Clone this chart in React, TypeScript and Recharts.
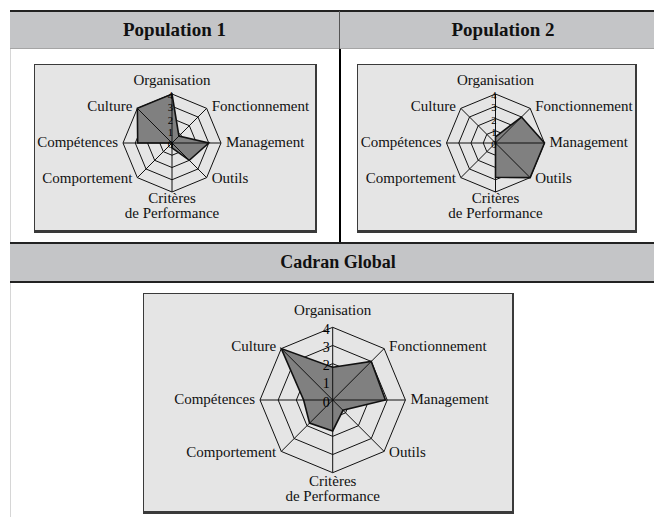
import React from 'react';
import { RadarChart, Radar, PolarGrid, PolarAngleAxis, PolarRadiusAxis } from 'recharts';

const categories = [
  'Organisation',
  'Fonctionnement',
  'Management',
  'Outils',
  'Critères de Performance',
  'Comportement',
  'Compétences',
  'Culture',
];
const population1 = [4, 0.8, 3, 2, 0.4, 0, 2.8, 4];
const population2 = [0.5, 3, 4, 4, 2.8, 0, 0, 0];
const cadranGlobal = [1.8, 3, 2.9, 0.8, 1.7, 1.8, 1.6, 4];
const radiusTicks = [0, 1, 2, 3, 4];
const headerTitles = ['Population 1', 'Population 2', 'Cadran Global'];

const FONT = '"Liberation Serif", "DejaVu Serif", serif';
const HEADER_BG = '#c4c5c7';
const BOX_BG = '#e5e5e5';
const RAD = Math.PI / 180;

const toRows = (values: number[]) => categories.map((c, i) => ({ axe: c, valeur: values[i] }));

function makeAngleTick(cx: number, cy: number, r: number, fontSize: number, topGap: number, bottomGap: number) {
  return (props: any) => {
    const { x, y, payload } = props;
    let dx = x - cx;
    let dy = y - cy;
    const len = Math.hypot(dx, dy) || 1;
    dx /= len;
    dy /= len;
    const vx = cx + r * dx;
    const vy = cy + r * dy;
    const label = String(payload.value);
    const common = { fontFamily: FONT, fontSize, fill: '#111' };
    if (Math.abs(dx) < 0.1) {
      if (dy < 0) {
        return (
          <text x={vx} y={vy - topGap} textAnchor="middle" {...common}>
            {label}
          </text>
        );
      }
      const parts = label.split(' ');
      const first = parts[0];
      const rest = parts.slice(1).join(' ');
      return (
        <text x={vx} y={vy + bottomGap} textAnchor="middle" {...common}>
          <tspan x={vx}>{first}</tspan>
          <tspan x={vx} dy={fontSize}>
            {rest}
          </tspan>
        </text>
      );
    }
    const anchor = dx > 0 ? 'start' : 'end';
    return (
      <text x={vx + Math.sign(dx) * 5} y={vy + 4 + dy * 2.5} textAnchor={anchor} {...common}>
        {label}
      </text>
    );
  };
}

function makeRadiusTick(dxOff: number, dyOff: number, fontSize: number) {
  return (props: any) => {
    const { x, y, payload } = props;
    return (
      <text
        x={x + dxOff}
        y={y + dyOff}
        textAnchor="end"
        dominantBaseline="central"
        fontFamily={FONT}
        fontSize={fontSize}
        fill="#000"
      >
        {payload.value}
      </text>
    );
  };
}

// polygon fill, then the spokes over it, then the outline (as in the reference)
function makeRadarShape(cx: number, cy: number, r: number) {
  return (props: any) => {
    const points: any[] = props.points || [];
    if (!points.length) return null;
    const d = points.map((p, i) => `${i === 0 ? 'M' : 'L'}${p.x},${p.y}`).join(' ') + ' Z';
    return (
      <g>
        <path d={d} fill="#808080" stroke="none" />
        {points.map((p, i) => {
          const a = p.angle;
          const ox = cx + Math.cos(-a * RAD) * r;
          const oy = cy + Math.sin(-a * RAD) * r;
          return <line key={i} x1={cx} y1={cy} x2={ox} y2={oy} stroke="#111" strokeWidth={1} />;
        })}
        <path d={d} fill="none" stroke="#111" strokeWidth={1.6} strokeLinejoin="miter" />
      </g>
    );
  };
}

type SpiderProps = {
  values: number[];
  width: number;
  height: number;
  cx: number;
  cy: number;
  r: number;
  digitSize: number;
  digitDx: number;
  digitDy: number;
  topGap: number;
  bottomGap: number;
};

function Spider({ values, width, height, cx, cy, r, digitSize, digitDx, digitDy, topGap, bottomGap }: SpiderProps) {
  const data = toRows(values);
  return (
    <RadarChart
      width={width}
      height={height}
      data={data}
      cx={cx}
      cy={cy}
      outerRadius={r}
      margin={{ top: 0, right: 0, bottom: 0, left: 0 }}
    >
      <PolarGrid gridType="polygon" radialLines={false} stroke="#111" strokeWidth={1} />
      <PolarAngleAxis
        dataKey="axe"
        tick={makeAngleTick(cx, cy, r, 15, topGap, bottomGap)}
        axisLine={false}
        tickLine={false}
      />
      <Radar
        dataKey="valeur"
        fill="#808080"
        fillOpacity={1}
        stroke="#111"
        strokeWidth={1.5}
        shape={makeRadarShape(cx, cy, r)}
        isAnimationActive={false}
      />
      <PolarRadiusAxis
        angle={90}
        domain={[0, 4]}
        ticks={radiusTicks as any}
        tickCount={5}
        axisLine={false}
        tickLine={false}
        tick={makeRadiusTick(digitDx, digitDy, digitSize)}
      />
    </RadarChart>
  );
}

const abs = (left: number, top: number, width: number, height: number): React.CSSProperties => ({
  position: 'absolute',
  left,
  top,
  width,
  height,
  boxSizing: 'border-box',
});

const headerText: React.CSSProperties = {
  display: 'flex',
  alignItems: 'center',
  justifyContent: 'center',
  fontFamily: FONT,
  fontWeight: 'bold',
  color: '#111',
};

const boxStyle: React.CSSProperties = {
  background: BOX_BG,
  border: '1px solid #3a3a3a',
  borderRightWidth: 2,
  borderBottomWidth: 3,
  overflow: 'hidden',
};

export default function App() {
  return (
    <div style={{ position: 'absolute', left: 0, top: 0, width: 654, height: 517, overflow: 'hidden', background: '#fff' }}>
      {/* first header row */}
      <div style={{ ...abs(10, 10, 660, 39), background: HEADER_BG, borderTop: '2px solid #222', borderBottom: '1px solid #a5a5a5' }} />
      <div style={{ ...abs(10, 11, 329, 37), ...headerText, fontSize: 19 }}>{headerTitles[0]}</div>
      <div style={{ ...abs(340, 11, 326, 37), ...headerText, fontSize: 19 }}>{headerTitles[1]}</div>
      <div style={{ ...abs(339, 11, 1, 38), background: '#555' }} />
      {/* row with two charts */}
      <div style={{ ...abs(10, 49, 1, 194), background: '#d6d6d6' }} />
      <div style={{ ...abs(339, 49, 2, 194), background: '#000' }} />
      <div style={{ ...abs(34, 64, 283, 169), ...boxStyle }}>
        <Spider
          values={population1}
          width={280}
          height={165}
          cx={137}
          cy={78}
          r={49}
          digitSize={10.5}
          digitDx={1}
          digitDy={1.5}
          topGap={9}
          bottomGap={11}
        />
      </div>
      <div style={{ ...abs(357, 64, 280, 169), ...boxStyle }}>
        <Spider
          values={population2}
          width={277}
          height={165}
          cx={137.5}
          cy={78}
          r={49}
          digitSize={10.5}
          digitDx={1}
          digitDy={1.5}
          topGap={9}
          bottomGap={11}
        />
      </div>
      {/* second header row */}
      <div style={{ ...abs(10, 242, 660, 41), background: HEADER_BG, borderTop: '2px solid #222', borderBottom: '2px solid #222' }} />
      <div style={{ ...abs(10, 244, 656, 37), ...headerText, fontSize: 18 }}>{headerTitles[2]}</div>
      <div style={{ ...abs(10, 283, 1, 234), background: '#d6d6d6' }} />
      <div style={{ ...abs(143, 293, 371, 221), ...boxStyle }}>
        <Spider
          values={cadranGlobal}
          width={368}
          height={217}
          cx={188.7}
          cy={106}
          r={72.7}
          digitSize={14}
          digitDx={-3}
          digitDy={2}
          topGap={12}
          bottomGap={13}
        />
      </div>
    </div>
  );
}
